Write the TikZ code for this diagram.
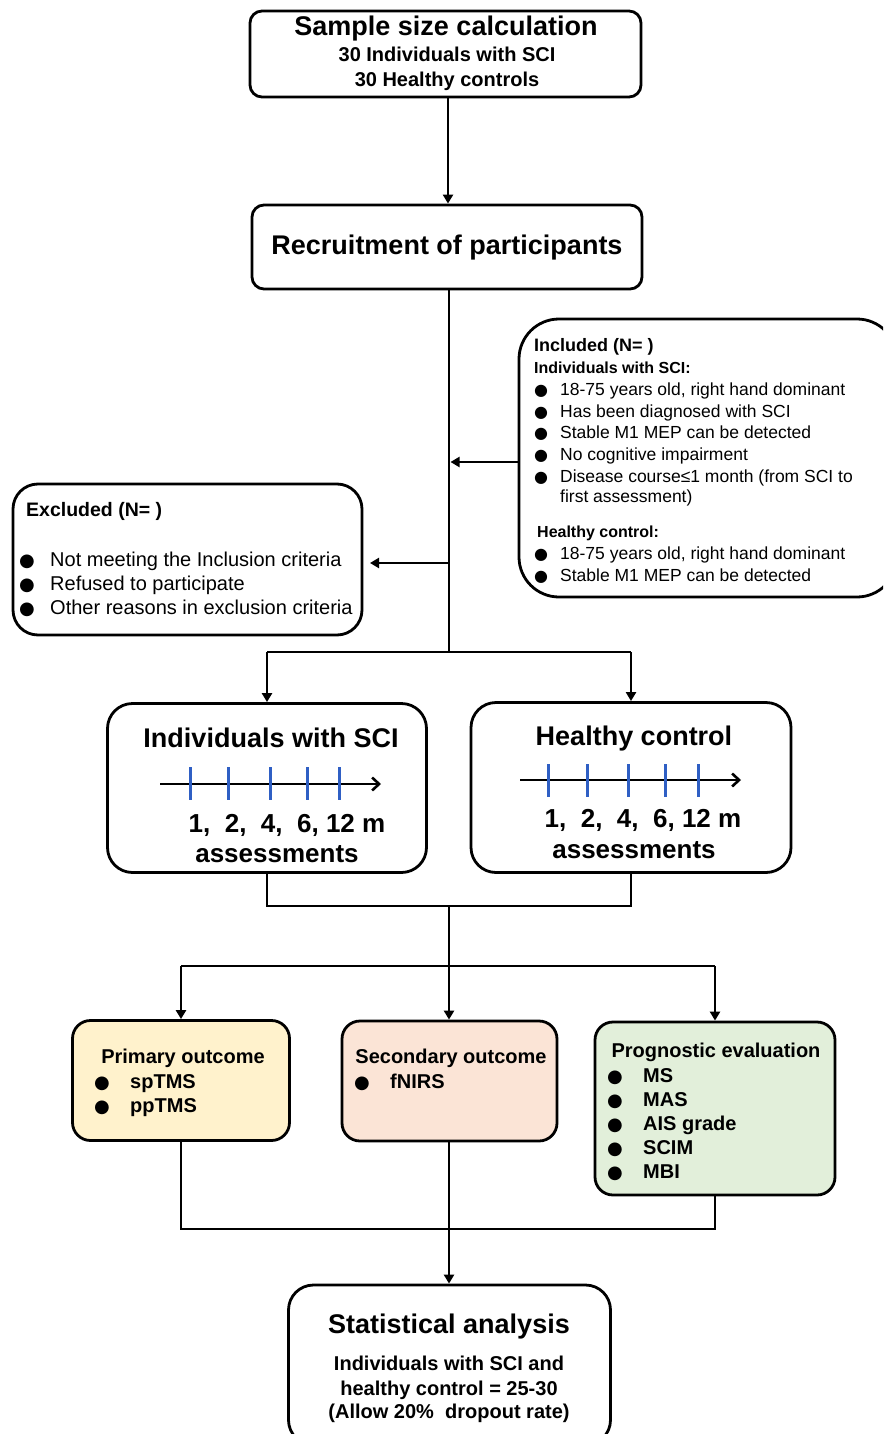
\documentclass[tikz,border=0pt]{standalone}
\usepackage{fontspec}
\setmainfont{Liberation Sans}
\newfontfamily\dejavu{DejaVu Sans}
\usetikzlibrary{arrows.meta}
\definecolor{tickblue}{HTML}{2F5FC4}
\definecolor{fillpri}{HTML}{FFF2CC}
\definecolor{fillsec}{HTML}{FBE4D6}
\definecolor{fillprog}{HTML}{E2EFDA}
\newcommand\myfs[1]{\fontsize{#1}{#1}\selectfont}
\begin{document}
\begin{tikzpicture}[x=1pt,y=-1pt,
  box/.style={draw, line width=2.8pt, rounded corners=#1, inner sep=0pt},
  box/.default=14pt,
  conn/.style={line width=2.8pt},
  arr/.style={line width=2.8pt, -{Triangle[length=9pt,width=10pt]}},
  tl/.style={line width=2.6pt, -{Straight Barb[length=7pt,width=13pt]}},
  tk/.style={line width=3pt, tickblue},
  ttl/.style={inner sep=0pt, anchor=base, font=\bfseries\myfs{27}},
  sub/.style={inner sep=0pt, anchor=base, font=\bfseries\myfs{20}},
  lsub/.style={inner sep=0pt, anchor=base west, font=\bfseries\myfs{20}},
  itm/.style={inner sep=0pt, anchor=base west, font=\myfs{#1}},
  bul/.style={inner sep=0pt, anchor=base, font=\dejavu\myfs{#1}},
]
\clip (0,0) rectangle (883,1434);
\fill[white] (0,0) rectangle (883,1434);

% ---------- top box
\node[box=12pt, minimum width=391pt, minimum height=86pt] (top) at (445.5,54) {};
\node[ttl] (topt) at (446,36) {Sample size calculation};
\node[sub] (top1) at (447,62) {30 Individuals with SCI};
\node[sub] (top2) at (447,87) {30 Healthy controls};

% ---------- recruitment
\node[box=12pt, minimum width=390pt, minimum height=84pt] (rec) at (447,247) {};
\node[ttl] (rect) at (447,254) {Recruitment of participants};
\draw[arr] (top.south -| 448,0) -- (rec.north -| 448,0);

% ---------- junction
\coordinate (j1) at (449,652);
\draw[conn] (rec.south -| j1) -- (j1);

% ---------- included
\node[box=40pt, minimum width=378pt, minimum height=278pt] (inc) at (708,458) {};
\node[itm=18, font=\bfseries\myfs{18}] (inch) at (534,351) {Included (N= )};
\node[itm=16, font=\bfseries\myfs{16}] (incs) at (534,373) {Individuals with SCI:};
\foreach \t/\y [count=\i] in {18-75 years old{,} right hand dominant/395.5,
  Has been diagnosed with SCI/417.5,
  Stable M1 MEP can be detected/438.5,
  No cognitive impairment/460.5,
  Disease course≤1 month  (from SCI to/482.5}{
  \node[bul=16] (ib\i) at (541,\y) {●};
  \node[itm=17.5] (it\i) at (560,\y) {\t};
}
\node[itm=17.5] (it6) at (560,502.5) {first assessment)};
\node[itm=16, font=\bfseries\myfs{16}] (inch2) at (537,537.5) {Healthy control:};
\node[bul=16] (hb1) at (541,559.5) {●};
\node[itm=17.5] (ht1) at (560,559.5) {18-75 years old, right hand dominant};
\node[bul=16] (hb2) at (541,581.5) {●};
\node[itm=17.5] (ht2) at (560,581.5) {Stable M1 MEP can be detected};
\draw[arr, shorten >=1.5pt] (inc.west |- 0,462) -- (j1 |- 0,462);

% ---------- excluded
\node[box=25pt, minimum width=349pt, minimum height=151pt] (exc) at (187.5,559.5) {};
\node[itm=19, font=\bfseries\myfs{19.5}] (exch) at (26,516) {Excluded (N= )};
\foreach \t/\y [count=\i] in {Not meeting the Inclusion criteria/566,
  Refused to participate/590,
  Other reasons in exclusion criteria/614}{
  \node[bul=18] (eb\i) at (27,\y) {●};
  \node[itm=20] (et\i) at (50,\y) {\t};
}
\draw[arr] (j1 |- 0,563) -- (370,563) coordinate (exctip);

% ---------- two groups
\node[box=25pt, minimum width=319pt, minimum height=169pt] (sci) at (267,788) {};
\node[box=25pt, minimum width=320pt, minimum height=170pt] (hc) at (631,787.5) {};
\draw[conn] (sci.north |- j1) -- (hc.north |- j1);
\draw[arr] (sci.north |- j1) -- (sci.north);
\draw[arr] (hc.north |- j1) -- (hc.north);

\node[ttl] (scit) at (271,747) {Individuals with SCI};
\draw[tl] (160,784) -- (381,784);
\foreach \x in {190,228,270,307,339} \draw[tk] (\x,767) -- (\x,800);
\node[ttl, font=\bfseries\myfs{26}] (scin) at (287,832) {1,\ \ 2,\ \ 4,\ \ 6, 12 m};
\node[ttl, font=\bfseries\myfs{26}] (scia) at (277,862) {assessments};

\node[ttl] (hct) at (634,745) {Healthy control};
\draw[tl] (520,780) -- (741,780);
\foreach \x in {548,587,628,665,698} \draw[tk] (\x,764) -- (\x,797);
\node[ttl, font=\bfseries\myfs{26}] (hcn) at (643,827) {1,\ \ 2,\ \ 4,\ \ 6, 12 m};
\node[ttl, font=\bfseries\myfs{26}] (hca) at (634,858) {assessments};

% ---------- merge
\coordinate (j2) at (449,906);
\coordinate (j3) at (449,966);
\draw[conn] (sci.south) -- (sci.south |- j2) -- (hc.south |- j2) -- (hc.south);
\draw[conn] (j2) -- (j3);

% ---------- outcomes
\node[box=18pt, fill=fillpri, minimum width=217pt, minimum height=120pt] (pri) at (181,1080.5) {};
\node[box=18pt, fill=fillsec, minimum width=215pt, minimum height=120pt] (sec) at (449.5,1081) {};
\node[box=18pt, fill=fillprog, minimum width=240pt, minimum height=173pt] (prog) at (715,1108.5) {};
\draw[conn] (pri.north |- j3) -- (prog.north |- j3);
\draw[arr] (pri.north |- j3) -- (pri.north);
\draw[arr] (j3) -- (j3 |- sec.north);
\draw[arr] (prog.north |- j3) -- (prog.north);

\node[sub] (prit) at (183,1063) {Primary outcome};
\node[bul=18] (pb1) at (102,1088) {●};
\node[lsub] (pt1) at (130,1088) {spTMS};
\node[bul=18] (pb2) at (102,1112) {●};
\node[lsub] (pt2) at (130,1112) {ppTMS};

\node[sub] (sect) at (451,1063) {Secondary outcome};
\node[bul=18] (sb1) at (362,1088) {●};
\node[lsub] (st1) at (390,1088) {fNIRS};

\node[sub] (progt) at (716,1057) {Prognostic evaluation};
\foreach \t/\y [count=\i] in {MS/1082,MAS/1106,AIS grade/1130,SCIM/1154,MBI/1178}{
  \node[bul=18] (gb\i) at (615,\y) {●};
  \node[lsub] (gt\i) at (643,\y) {\t};
}

% ---------- final merge
\coordinate (j4) at (449,1229);
\draw[conn] (pri.south) -- (pri.south |- j4) -- (prog.south |- j4) -- (prog.south);

% ---------- statistical analysis
\node[box=25pt, minimum width=322pt, minimum height=160pt] (stat) at (449.5,1365) {};
\draw[arr] (sec.south -| j4) -- (stat.north -| j4);
\node[ttl] (statt) at (449,1333) {Statistical analysis};
\node[sub] (stat1) at (449,1370) {Individuals with SCI and};
\node[sub] (stat2) at (449,1395) {healthy control = 25-30};
\node[sub] (stat3) at (449,1418) {(Allow 20\%\ \ dropout rate)};
\end{tikzpicture}
\end{document}
